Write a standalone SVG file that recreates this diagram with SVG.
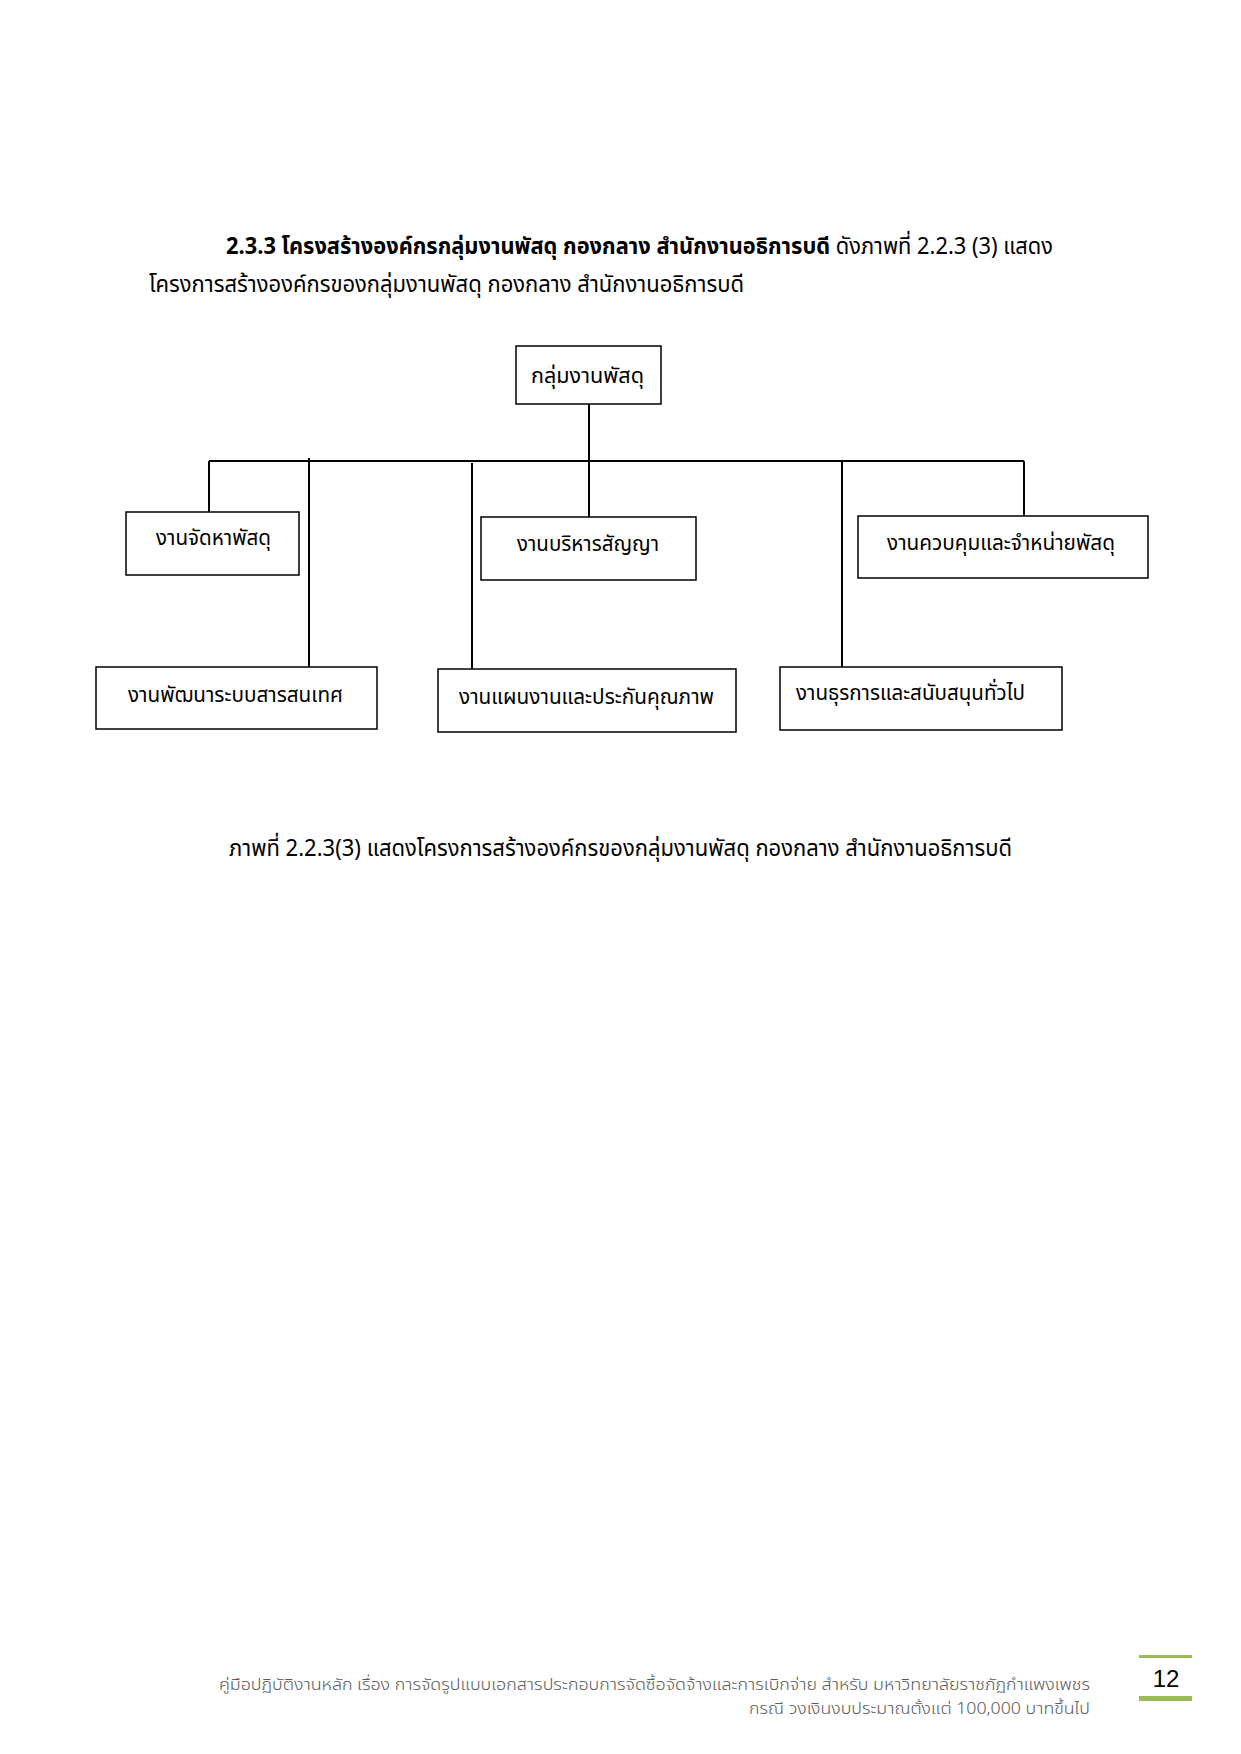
<svg xmlns="http://www.w3.org/2000/svg" width="1241" height="1754" viewBox="0 0 1241 1754">
<style>
.t{font-family:"Noto Sans Thai","Noto Sans","DejaVu Sans",sans-serif;fill:#000;}
.n{font-size:22px;}
.b{fill:#fff;stroke:#000;stroke-width:1.5;}
.c{stroke:#000;stroke-width:2;fill:none;}
.f{font-family:"Noto Sans Thai","Noto Sans","DejaVu Sans",sans-serif;font-size:16px;fill:#5a5a5a;font-weight:300;}
</style>
<rect width="1241" height="1754" fill="#fff"/>
<text class="t" x="226" y="254" font-size="23" textLength="827" lengthAdjust="spacingAndGlyphs"><tspan font-weight="bold">2.3.3 โครงสร้างองค์กรกลุ่มงานพัสดุ กองกลาง สำนักงานอธิการบดี</tspan> ดังภาพที่ 2.2.3 (3) แสดง</text>
<text class="t" x="149" y="292" font-size="23" textLength="595" lengthAdjust="spacingAndGlyphs">โครงการสร้างองค์กรของกลุ่มงานพัสดุ กองกลาง สำนักงานอธิการบดี</text>
<g id="connectors">
<line class="c" x1="589" y1="404" x2="589" y2="517"/>
<line class="c" x1="209" y1="461" x2="1024" y2="461"/>
<line class="c" x1="209" y1="461" x2="209" y2="512"/>
<line class="c" x1="1024" y1="461" x2="1024" y2="516"/>
<line class="c" x1="309" y1="458" x2="309" y2="667"/>
<line class="c" x1="472" y1="463" x2="472" y2="669"/>
<line class="c" x1="842" y1="461" x2="842" y2="667"/>
</g>
<g id="n-top"><rect class="b" x="516" y="346" width="145" height="58"/><text class="t n" x="531" y="383" textLength="113" lengthAdjust="spacingAndGlyphs">กลุ่มงานพัสดุ</text></g>
<g id="n-procure"><rect class="b" x="126" y="512" width="173" height="63"/><text class="t n" x="156" y="545" textLength="115" lengthAdjust="spacingAndGlyphs">งานจัดหาพัสดุ</text></g>
<g id="n-contract"><rect class="b" x="481" y="517" width="215" height="63"/><text class="t n" x="517" y="551" textLength="142" lengthAdjust="spacingAndGlyphs">งานบริหารสัญญา</text></g>
<g id="n-control"><rect class="b" x="858" y="516" width="290" height="62"/><text class="t n" x="887" y="550" textLength="228" lengthAdjust="spacingAndGlyphs">งานควบคุมและจำหน่ายพัสดุ</text></g>
<g id="n-it"><rect class="b" x="96" y="667" width="281" height="62"/><text class="t n" x="128" y="702" textLength="215" lengthAdjust="spacingAndGlyphs">งานพัฒนาระบบสารสนเทศ</text></g>
<g id="n-plan"><rect class="b" x="438" y="669" width="298" height="63"/><text class="t n" x="459" y="704" textLength="255" lengthAdjust="spacingAndGlyphs">งานแผนงานและประกันคุณภาพ</text></g>
<g id="n-admin"><rect class="b" x="780" y="667" width="282" height="63"/><text class="t n" x="796" y="700" textLength="229" lengthAdjust="spacingAndGlyphs">งานธุรการและสนับสนุนทั่วไป</text></g>
<text class="t" x="229" y="856" font-size="23" textLength="783" lengthAdjust="spacingAndGlyphs">ภาพที่ 2.2.3(3) แสดงโครงการสร้างองค์กรของกลุ่มงานพัสดุ กองกลาง สำนักงานอธิการบดี</text>
<text class="f" x="1090" y="1690" text-anchor="end" textLength="871" lengthAdjust="spacingAndGlyphs">คู่มือปฏิบัติงานหลัก เรื่อง การจัดรูปแบบเอกสารประกอบการจัดซื้อจัดจ้างและการเบิกจ่าย  สำหรับ มหาวิทยาลัยราชภัฏกำแพงเพชร</text>
<text class="f" x="1090" y="1714" text-anchor="end" textLength="341" lengthAdjust="spacingAndGlyphs">กรณี วงเงินงบประมาณตั้งแต่ 100,000 บาทขึ้นไป</text>
<rect x="1139" y="1655" width="53" height="3" fill="#9bbb59"/>
<rect x="1139" y="1696" width="53" height="5" fill="#9bbb59"/>
<text x="1166" y="1687" text-anchor="middle" font-family="Liberation Sans, Arial, sans-serif" font-size="24" fill="#000">12</text>
</svg>
